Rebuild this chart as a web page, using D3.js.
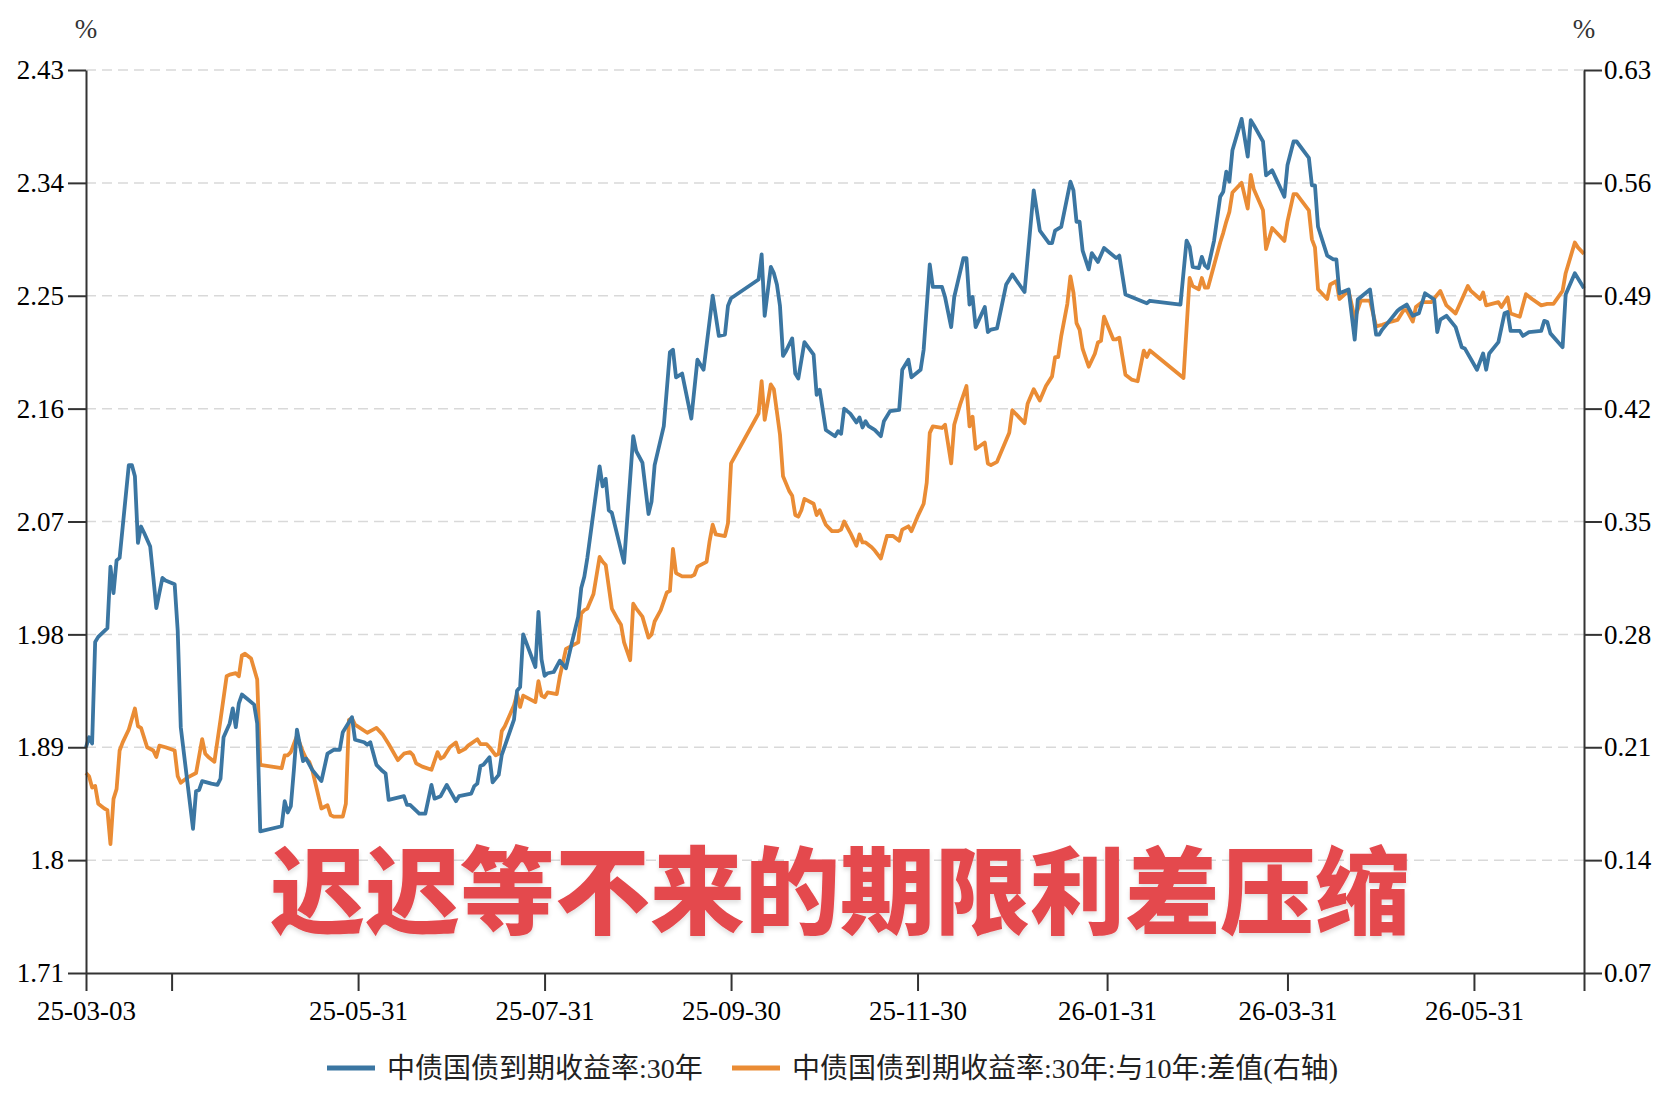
<!DOCTYPE html>
<html>
<head>
<meta charset="utf-8">
<script src="https://cdn.jsdelivr.net/npm/d3@7"></script>
<style>
  body { margin: 0; background: #fff; }
  svg { display: block; }
  .axis .domain, .axis line { stroke: #333; stroke-width: 2; }
</style>
</head>
<body>
<svg id="chart" width="1680" height="1094"></svg>
<script>
// y axis ticks, left = 30y yield, right = 30y-10y spread
const leftTicks = [1.71, 1.8, 1.89, 1.98, 2.07, 2.16, 2.25, 2.34, 2.43];
const leftLabels = ['1.71', '1.8', '1.89', '1.98', '2.07', '2.16', '2.25', '2.34', '2.43'];
const rightTicks = [0.07, 0.14, 0.21, 0.28, 0.35, 0.42, 0.49, 0.56, 0.63];
const rightLabels = ['0.07', '0.14', '0.21', '0.28', '0.35', '0.42', '0.49', '0.56', '0.63'];

const xTickDates = ['25-03-03', '25-03-31', '25-05-31', '25-07-31', '25-09-30', '25-11-30', '26-01-31', '26-03-31', '26-05-31', '26-07-06'];
const xTickLabels = ['25-03-03', '', '25-05-31', '25-07-31', '25-09-30', '25-11-30', '26-01-31', '26-03-31', '26-05-31', ''];

const seriesNames = ['中债国债到期收益率:30年', '中债国债到期收益率:30年:与10年:差值(右轴)'];
const seriesColors = ['#3b76a2', '#ea8c35'];
const title = '迟迟等不来的期限利差压缩';

// 中债国债到期收益率:30年 (%)
const yield30 = [
['25-03-03',1.890],['25-03-04',1.898],['25-03-05',1.893],['25-03-06',1.974],['25-03-07',1.978],['25-03-10',1.985],['25-03-11',2.034],['25-03-12',2.013],['25-03-13',2.039],['25-03-14',2.041],['25-03-17',2.115],['25-03-18',2.115],['25-03-19',2.106],['25-03-20',2.053],['25-03-21',2.066],['25-03-22',2.061],['25-03-24',2.050],['25-03-25',2.026],['25-03-26',2.001],['25-03-28',2.025],['25-03-29',2.023],['25-04-01',2.020],['25-04-02',1.983],['25-04-03',1.906],['25-04-07',1.825],['25-04-08',1.855],['25-04-09',1.856],['25-04-10',1.863],['25-04-13',1.861],['25-04-15',1.860],['25-04-16',1.865],['25-04-17',1.898],['25-04-19',1.909],['25-04-20',1.921],['25-04-21',1.906],['25-04-22',1.925],['25-04-23',1.932],['25-04-25',1.928],['25-04-27',1.924],['25-04-28',1.909],['25-04-29',1.823],
['25-05-06',1.827],['25-05-07',1.847],['25-05-08',1.838],['25-05-09',1.843],['25-05-10',1.872],['25-05-11',1.904],['25-05-13',1.879],['25-05-14',1.881],['25-05-16',1.872],['25-05-19',1.863],['25-05-21',1.885],['25-05-23',1.888],['25-05-25',1.888],['25-05-26',1.902],['25-05-29',1.914],['25-05-30',1.896],['25-06-02',1.894],['25-06-03',1.892],['25-06-04',1.894],['25-06-06',1.876],['25-06-08',1.871],['25-06-09',1.869],['25-06-10',1.848],['25-06-15',1.851],['25-06-16',1.844],['25-06-17',1.844],['25-06-20',1.837],['25-06-22',1.837],['25-06-24',1.860],['25-06-25',1.849],['25-06-27',1.851],['25-06-29',1.860],
['25-07-02',1.847],['25-07-03',1.851],['25-07-07',1.853],['25-07-08',1.859],['25-07-09',1.861],['25-07-10',1.875],['25-07-11',1.876],['25-07-13',1.882],['25-07-14',1.862],['25-07-16',1.868],['25-07-17',1.884],['25-07-21',1.912],['25-07-22',1.935],['25-07-23',1.938],['25-07-24',1.980],['25-07-28',1.954],['25-07-29',1.998],['25-07-30',1.960],['25-07-31',1.947],['25-08-01',1.949],['25-08-03',1.950],['25-08-05',1.959],['25-08-06',1.956],['25-08-07',1.953],['25-08-09',1.974],['25-08-11',1.994],['25-08-12',2.017],['25-08-13',2.026],['25-08-14',2.041],['25-08-18',2.114],['25-08-19',2.098],['25-08-20',2.104],['25-08-21',2.079],['25-08-22',2.077],['25-08-26',2.037],['25-08-29',2.138],['25-08-30',2.126],
['25-09-01',2.117],['25-09-03',2.076],['25-09-04',2.086],['25-09-05',2.115],['25-09-08',2.146],['25-09-10',2.205],['25-09-11',2.207],['25-09-12',2.185],['25-09-14',2.188],['25-09-17',2.152],['25-09-19',2.199],['25-09-21',2.191],['25-09-24',2.250],['25-09-26',2.218],['25-09-28',2.219],['25-09-29',2.242],['25-09-30',2.248],['25-10-09',2.263],['25-10-10',2.283],['25-10-11',2.234],['25-10-13',2.273],['25-10-14',2.268],['25-10-15',2.259],['25-10-16',2.242],['25-10-17',2.202],['25-10-18',2.206],['25-10-20',2.216],['25-10-21',2.188],['25-10-22',2.184],['25-10-24',2.213],['25-10-27',2.203],['25-10-28',2.171],['25-10-29',2.175],['25-10-31',2.143],
['25-11-03',2.138],['25-11-04',2.142],['25-11-05',2.140],['25-11-06',2.160],['25-11-08',2.156],['25-11-10',2.149],['25-11-11',2.153],['25-11-12',2.145],['25-11-13',2.150],['25-11-14',2.146],['25-11-16',2.143],['25-11-18',2.138],['25-11-19',2.150],['25-11-21',2.158],['25-11-24',2.159],['25-11-25',2.191],['25-11-27',2.199],['25-11-28',2.185],['25-12-01',2.191],['25-12-02',2.207],['25-12-04',2.275],['25-12-05',2.257],['25-12-08',2.257],['25-12-09',2.249],['25-12-11',2.225],['25-12-12',2.249],['25-12-15',2.280],['25-12-16',2.280],['25-12-17',2.243],['25-12-18',2.249],['25-12-19',2.225],['25-12-22',2.241],['25-12-23',2.221],['25-12-24',2.223],['25-12-26',2.224],['25-12-29',2.259],['25-12-31',2.267],
['26-01-04',2.253],['26-01-07',2.334],['26-01-09',2.302],['26-01-12',2.292],['26-01-13',2.292],['26-01-14',2.302],['26-01-16',2.305],['26-01-19',2.341],['26-01-20',2.334],['26-01-21',2.309],['26-01-22',2.309],['26-01-23',2.286],['26-01-25',2.271],['26-01-26',2.284],['26-01-28',2.277],['26-01-30',2.288],['26-02-03',2.280],['26-02-04',2.282],['26-02-06',2.251],['26-02-11',2.246],['26-02-13',2.244],['26-02-14',2.246],['26-02-24',2.243],['26-02-26',2.294],['26-02-27',2.289],['26-02-28',2.273],
['26-03-02',2.272],['26-03-03',2.281],['26-03-04',2.274],['26-03-05',2.272],['26-03-07',2.294],['26-03-09',2.329],['26-03-10',2.333],['26-03-11',2.349],['26-03-12',2.341],['26-03-13',2.366],['26-03-16',2.391],['26-03-18',2.361],['26-03-19',2.390],['26-03-20',2.386],['26-03-23',2.373],['26-03-24',2.346],['26-03-26',2.350],['26-03-30',2.329],['26-03-31',2.354],['26-04-02',2.373],['26-04-03',2.373],['26-04-07',2.360],['26-04-08',2.338],['26-04-09',2.338],['26-04-10',2.305],['26-04-13',2.282],['26-04-15',2.279],['26-04-16',2.279],['26-04-17',2.252],['26-04-20',2.255],['26-04-22',2.215],['26-04-23',2.247],['26-04-27',2.255],['26-04-29',2.219],['26-04-30',2.219],
['26-05-01',2.223],['26-05-04',2.232],['26-05-06',2.238],['26-05-07',2.240],['26-05-09',2.243],['26-05-11',2.234],['26-05-13',2.236],['26-05-15',2.252],['26-05-18',2.247],['26-05-19',2.221],['26-05-20',2.231],['26-05-22',2.234],['26-05-25',2.225],['26-05-27',2.209],['26-05-28',2.208],['26-06-01',2.191],['26-06-03',2.204],['26-06-04',2.191],['26-06-05',2.204],['26-06-08',2.213],['26-06-10',2.236],['26-06-11',2.237],['26-06-12',2.222],['26-06-15',2.222],['26-06-16',2.218],['26-06-18',2.221],['26-06-22',2.222],['26-06-23',2.230],['26-06-24',2.229],['26-06-25',2.220],['26-06-29',2.209],['26-06-30',2.251],['26-07-03',2.268],['26-07-06',2.256]
];

// 中债国债到期收益率:30年:与10年:差值 (%, right axis)
const spread = [
['25-03-03',0.194],['25-03-04',0.192],['25-03-05',0.185],['25-03-06',0.186],['25-03-07',0.175],['25-03-09',0.172],['25-03-10',0.171],['25-03-11',0.150],['25-03-12',0.178],['25-03-13',0.184],['25-03-14',0.208],['25-03-15',0.213],['25-03-17',0.221],['25-03-19',0.234],['25-03-20',0.223],['25-03-21',0.222],['25-03-23',0.210],['25-03-25',0.208],['25-03-26',0.204],['25-03-27',0.211],['25-03-29',0.210],['25-04-01',0.208],['25-04-02',0.192],['25-04-03',0.188],['25-04-05',0.191],['25-04-08',0.194],['25-04-10',0.215],['25-04-11',0.206],['25-04-12',0.204],['25-04-14',0.201],['25-04-16',0.227],['25-04-18',0.254],['25-04-19',0.255],['25-04-21',0.256],['25-04-22',0.254],['25-04-23',0.267],['25-04-24',0.268],['25-04-26',0.265],['25-04-28',0.252],['25-04-29',0.199],
['25-05-06',0.197],['25-05-07',0.205],['25-05-08',0.205],['25-05-09',0.207],['25-05-10',0.212],['25-05-11',0.217],['25-05-13',0.207],['25-05-14',0.203],['25-05-15',0.201],['25-05-16',0.196],['25-05-19',0.172],['25-05-21',0.174],['25-05-22',0.168],['25-05-23',0.167],['25-05-26',0.167],['25-05-27',0.175],['25-05-28',0.227],['25-05-29',0.228],['25-05-30',0.224],['25-06-03',0.219],['25-06-04',0.220],['25-06-06',0.222],['25-06-08',0.218],['25-06-10',0.212],['25-06-13',0.202],['25-06-15',0.206],['25-06-17',0.207],['25-06-18',0.205],['25-06-19',0.200],['25-06-21',0.198],['25-06-24',0.196],['25-06-26',0.207],['25-06-27',0.203],['25-06-28',0.204],['25-06-30',0.210],
['25-07-02',0.213],['25-07-03',0.207],['25-07-05',0.209],['25-07-06',0.211],['25-07-09',0.215],['25-07-10',0.212],['25-07-12',0.212],['25-07-13',0.210],['25-07-15',0.205],['25-07-16',0.206],['25-07-17',0.220],['25-07-18',0.223],['25-07-21',0.236],['25-07-22',0.243],['25-07-23',0.235],['25-07-24',0.242],['25-07-28',0.238],['25-07-29',0.251],['25-07-30',0.242],['25-07-31',0.241],['25-08-01',0.244],['25-08-04',0.243],['25-08-05',0.254],['25-08-07',0.271],['25-08-09',0.273],['25-08-11',0.275],['25-08-12',0.293],['25-08-13',0.295],['25-08-14',0.296],['25-08-16',0.305],['25-08-18',0.328],['25-08-19',0.325],['25-08-20',0.323],['25-08-22',0.296],['25-08-24',0.289],['25-08-25',0.286],['25-08-26',0.275],['25-08-28',0.264],['25-08-29',0.299],['25-08-30',0.296],
['25-09-01',0.291],['25-09-03',0.278],['25-09-04',0.280],['25-09-05',0.288],['25-09-07',0.295],['25-09-09',0.306],['25-09-10',0.307],['25-09-11',0.333],['25-09-12',0.318],['25-09-14',0.316],['25-09-17',0.316],['25-09-18',0.317],['25-09-19',0.322],['25-09-22',0.325],['25-09-23',0.338],['25-09-24',0.348],['25-09-25',0.342],['25-09-28',0.341],['25-09-29',0.349],['25-09-30',0.386],['25-10-09',0.417],['25-10-10',0.437],['25-10-11',0.413],['25-10-13',0.435],['25-10-14',0.432],['25-10-16',0.404],['25-10-17',0.378],['25-10-19',0.369],['25-10-20',0.366],['25-10-21',0.354],['25-10-22',0.353],['25-10-23',0.357],['25-10-24',0.364],['25-10-27',0.361],['25-10-28',0.354],['25-10-29',0.357],['25-10-31',0.348],
['25-11-02',0.344],['25-11-04',0.344],['25-11-05',0.345],['25-11-06',0.350],['25-11-08',0.343],['25-11-10',0.335],['25-11-11',0.342],['25-11-12',0.337],['25-11-13',0.337],['25-11-15',0.334],['25-11-16',0.332],['25-11-18',0.327],['25-11-20',0.341],['25-11-22',0.341],['25-11-24',0.338],['25-11-25',0.345],['25-11-27',0.347],['25-11-28',0.344],['25-11-30',0.353],['25-12-02',0.361],['25-12-03',0.374],['25-12-04',0.405],['25-12-05',0.409],['25-12-08',0.408],['25-12-09',0.410],['25-12-11',0.386],['25-12-12',0.410],['25-12-14',0.423],['25-12-16',0.434],['25-12-17',0.409],['25-12-18',0.415],['25-12-19',0.395],['25-12-22',0.399],['25-12-23',0.386],['25-12-24',0.385],['25-12-26',0.387],['25-12-30',0.405],['25-12-31',0.419],
['26-01-04',0.411],['26-01-05',0.423],['26-01-07',0.432],['26-01-09',0.425],['26-01-11',0.434],['26-01-13',0.440],['26-01-14',0.452],['26-01-15',0.452],['26-01-16',0.465],['26-01-18',0.485],['26-01-19',0.502],['26-01-20',0.492],['26-01-21',0.473],['26-01-22',0.469],['26-01-23',0.457],['26-01-25',0.446],['26-01-27',0.454],['26-01-28',0.461],['26-01-29',0.462],['26-01-30',0.477],['26-02-02',0.463],['26-02-03',0.463],['26-02-04',0.464],['26-02-06',0.441],['26-02-08',0.438],['26-02-10',0.437],['26-02-12',0.456],['26-02-13',0.452],['26-02-14',0.456],['26-02-25',0.439],['26-02-27',0.501],['26-02-28',0.496],
['26-03-02',0.494],['26-03-03',0.501],['26-03-04',0.495],['26-03-05',0.495],['26-03-09',0.523],['26-03-10',0.529],['26-03-11',0.536],['26-03-12',0.542],['26-03-13',0.554],['26-03-16',0.560],['26-03-18',0.544],['26-03-19',0.565],['26-03-20',0.556],['26-03-23',0.543],['26-03-24',0.519],['26-03-26',0.532],['26-03-30',0.524],['26-03-31',0.536],['26-04-02',0.553],['26-04-03',0.553],['26-04-07',0.543],['26-04-08',0.525],['26-04-09',0.520],['26-04-10',0.494],['26-04-13',0.488],['26-04-14',0.497],['26-04-16',0.499],['26-04-17',0.488],['26-04-20',0.493],['26-04-22',0.476],['26-04-24',0.487],['26-04-27',0.487],['26-04-29',0.471],
['26-05-01',0.472],['26-05-04',0.474],['26-05-06',0.475],['26-05-08',0.481],['26-05-09',0.481],['26-05-11',0.474],['26-05-12',0.483],['26-05-14',0.486],['26-05-17',0.486],['26-05-20',0.493],['26-05-22',0.484],['26-05-25',0.479],['26-05-29',0.496],['26-05-30',0.493],['26-06-02',0.488],['26-06-03',0.492],['26-06-04',0.484],['26-06-08',0.486],['26-06-09',0.483],['26-06-11',0.489],['26-06-12',0.479],['26-06-15',0.477],['26-06-17',0.491],['26-06-19',0.488],['26-06-22',0.484],['26-06-24',0.485],['26-06-26',0.485],['26-06-29',0.493],['26-06-30',0.504],['26-07-03',0.523],['26-07-04',0.520],['26-07-06',0.516]
];

const width = 1680;
const height = 1094;
const margin = { top: 70, right: 96, bottom: 121, left: 86 };
const serif = "'Times New Roman', 'Liberation Serif', 'DejaVu Serif', serif";
const parse = d3.timeParse('%y-%m-%d');

const svg = d3.select('#chart');

const x = d3.scaleTime()
  .domain([parse('25-03-03'), parse('26-07-06')])
  .range([margin.left, width - margin.right]);
const yLeft = d3.scaleLinear()
  .domain([1.71, 2.43])
  .range([height - margin.bottom, margin.top]);
const yRight = d3.scaleLinear()
  .domain([0.07, 0.63])
  .range([height - margin.bottom, margin.top]);

// dashed grid
svg.append('g')
  .selectAll('line')
  .data(leftTicks.slice(1))
  .join('line')
  .attr('x1', margin.left)
  .attr('x2', width - margin.right)
  .attr('y1', d => yLeft(d))
  .attr('y2', d => yLeft(d))
  .attr('stroke', '#d9d9d9')
  .attr('stroke-width', 1.5)
  .attr('stroke-dasharray', '10,6');

// lines
const lineLeft = d3.line()
  .x(d => x(parse(d[0])))
  .y(d => yLeft(d[1]));
const lineRight = d3.line()
  .x(d => x(parse(d[0])))
  .y(d => yRight(d[1]));

svg.append('path')
  .datum(spread)
  .attr('fill', 'none')
  .attr('stroke', seriesColors[1])
  .attr('stroke-width', 3.8)
  .attr('stroke-linejoin', 'round')
  .attr('d', lineRight);

svg.append('path')
  .datum(yield30)
  .attr('fill', 'none')
  .attr('stroke', seriesColors[0])
  .attr('stroke-width', 3.8)
  .attr('stroke-linejoin', 'round')
  .attr('d', lineLeft);

// axes
const xAxisG = svg.append('g')
  .attr('class', 'axis')
  .attr('transform', `translate(0,${height - margin.bottom})`)
  .call(d3.axisBottom(x)
    .tickValues(xTickDates.map(parse))
    .tickFormat((d, i) => xTickLabels[i])
    .tickSize(18)
    .tickSizeOuter(0)
    .tickPadding(10));

const leftAxisG = svg.append('g')
  .attr('class', 'axis')
  .attr('transform', `translate(${margin.left},0)`)
  .call(d3.axisLeft(yLeft)
    .tickValues(leftTicks)
    .tickFormat((d, i) => leftLabels[i])
    .tickSize(18)
    .tickSizeOuter(0)
    .tickPadding(4));

const rightAxisG = svg.append('g')
  .attr('class', 'axis')
  .attr('transform', `translate(${width - margin.right},0)`)
  .call(d3.axisRight(yRight)
    .tickValues(rightTicks)
    .tickFormat((d, i) => rightLabels[i])
    .tickSize(18)
    .tickSizeOuter(0)
    .tickPadding(2));

[xAxisG, leftAxisG, rightAxisG].forEach(g => g.selectAll('text')
  .style('font-family', serif)
  .style('font-size', '27px')
  .style('fill', '#000'));

// unit labels
svg.selectAll('text.unit')
  .data([margin.left, width - margin.right])
  .join('text')
  .attr('class', 'unit')
  .attr('x', d => d)
  .attr('y', 38)
  .attr('text-anchor', 'middle')
  .style('font-family', serif)
  .style('font-size', '27px')
  .attr('fill', '#333')
  .text('%');

// legend
const legendX = [327, 732];
const legend = svg.append('g')
  .selectAll('g')
  .data(seriesNames)
  .join('g')
  .attr('transform', (d, i) => `translate(${legendX[i]},1068)`);
legend.append('line')
  .attr('x1', 0)
  .attr('x2', 48)
  .attr('stroke', (d, i) => seriesColors[i])
  .attr('stroke-width', 5);
legend.append('text')
  .attr('x', 60)
  .attr('dy', '0.36em')
  .style('font-family', "'Times New Roman', 'Liberation Serif', 'Noto Sans CJK SC', serif")
  .style('font-size', '28px')
  .attr('fill', '#222')
  .text(d => d);

// headline
const defs = svg.append('defs');
const shadow = defs.append('filter')
  .attr('id', 'shadow')
  .attr('x', '-5%').attr('y', '-20%')
  .attr('width', '110%').attr('height', '150%');
shadow.append('feDropShadow')
  .attr('dx', 0)
  .attr('dy', 3)
  .attr('stdDeviation', 2)
  .attr('flood-color', '#000')
  .attr('flood-opacity', 0.12);

svg.append('text')
  .attr('x', 840)
  .attr('y', 885)
  .attr('text-anchor', 'middle')
  .attr('dominant-baseline', 'central')
  .style('font-family', "'Noto Sans CJK SC', sans-serif")
  .style('font-weight', 900)
  .style('font-size', '95px')
  .attr('fill', '#e4484d')
  .attr('filter', 'url(#shadow)')
  .text(title);
</script>
</body>
</html>
